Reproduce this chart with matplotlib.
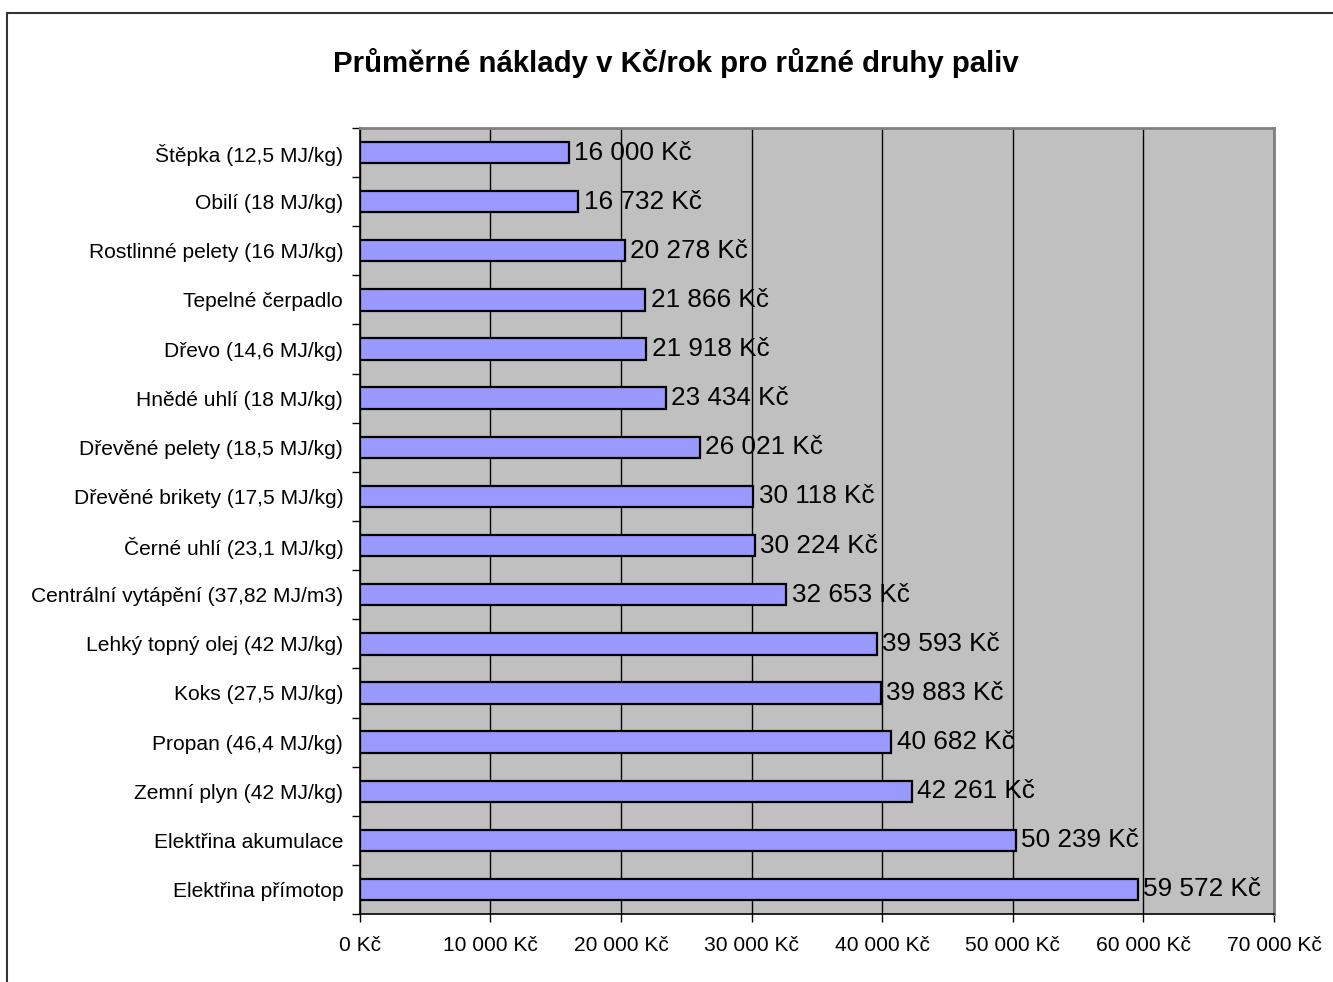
import numpy as np
import matplotlib.pyplot as plt
from matplotlib.lines import Line2D
from matplotlib.ticker import FuncFormatter, FixedLocator

plt.rcParams['font.family'] = ['Liberation Sans', 'DejaVu Sans']

# data (top to bottom)
fuels = [
    "Štěpka (12,5 MJ/kg)",
    "Obilí (18 MJ/kg)",
    "Rostlinné pelety (16 MJ/kg)",
    "Tepelné čerpadlo",
    "Dřevo (14,6 MJ/kg)",
    "Hnědé uhlí (18 MJ/kg)",
    "Dřevěné pelety (18,5 MJ/kg)",
    "Dřevěné brikety (17,5 MJ/kg)",
    "Černé uhlí (23,1 MJ/kg)",
    "Centrální vytápění (37,82 MJ/m3)",
    "Lehký topný olej (42 MJ/kg)",
    "Koks (27,5 MJ/kg)",
    "Propan (46,4 MJ/kg)",
    "Zemní plyn (42 MJ/kg)",
    "Elektřina akumulace",
    "Elektřina přímotop",
]
costs = [16000, 16732, 20278, 21866, 21918, 23434, 26021, 30118,
         30224, 32653, 39593, 39883, 40682, 42261, 50239, 59572]
x_ticks = [0, 10000, 20000, 30000, 40000, 50000, 60000, 70000]


def kc(v, pos=None):
    return f"{int(v):,} Kč".replace(",", " ")


fig = plt.figure(figsize=(13.33, 9.82), dpi=100)
ax = fig.add_axes([0.270, 0.0692, 0.6857, 0.8005])

ax.set_facecolor('#C0C0C0')
y = np.arange(len(fuels))
ax.barh(y, costs, height=0.435, color='#9999FF', edgecolor='black', linewidth=1.6, zorder=3)

for yi, v in zip(y, costs):
    ax.annotate(kc(v), (v, yi), xytext=(4, 0), textcoords='offset points',
                va='center', ha='left', fontsize=18.8, zorder=4)

ax.set_xlim(0, 70000)
ax.set_ylim(len(fuels) - 0.5, -0.5)
ax.set_xticks(x_ticks)
ax.xaxis.set_major_formatter(FuncFormatter(kc))
ax.tick_params(axis='x', direction='out', length=6, width=1, pad=9.5, labelsize=15.1)
ax.xaxis.grid(True, color='black', linewidth=1, zorder=1)

ax.set_yticks(y)
ax.set_yticklabels(fuels)
ax.yaxis.set_minor_locator(FixedLocator(np.arange(len(fuels) + 1) - 0.5))
ax.tick_params(axis='y', which='major', length=0, pad=12, labelsize=15.1)
ax.tick_params(axis='y', which='minor', direction='out', length=6, width=1)

for s in ['top', 'right']:
    ax.spines[s].set_color('#808080')
    ax.spines[s].set_linewidth(2)
for s in ['left', 'bottom']:
    ax.spines[s].set_color('black')
    ax.spines[s].set_linewidth(1.2)

fig.text(0.507, 0.936, "Průměrné náklady v Kč/rok pro různé druhy paliv",
         ha='center', va='center', fontsize=21.2, fontweight='bold')

# chart border (partly cropped)
fig.add_artist(Line2D([0.0053, 0.0053, 1.0], [0.0, 0.9868, 0.9868],
                      transform=fig.transFigure, color='#333333', linewidth=1.5))

fig.savefig('out.png', dpi=100)
